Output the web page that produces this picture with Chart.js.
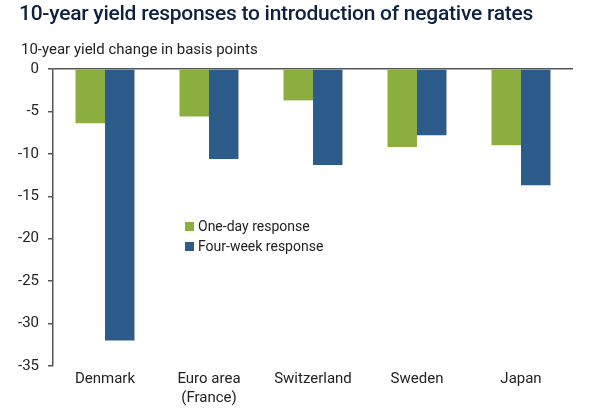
<!DOCTYPE html>
<html>
<head>
<meta charset="utf-8">
<script src="https://cdn.jsdelivr.net/npm/chart.js@4"></script>
<style>
  body { margin: 0; background: #fff; }
  #wrap { position: relative; width: 595px; height: 414px; font-family: Roboto, sans-serif; }
  #title { position: absolute; left: 19px; top: 1px; margin: 0; font-size: 21px; font-weight: 500;
           color: #0d2240; letter-spacing: -0.25px; white-space: nowrap; }
  #caption { position: absolute; left: 21px; top: 40px; font-size: 15px; color: #222; }
  #legend { position: absolute; left: 185px; top: 216px; font-size: 14px; color: #222; }
  #legend div { height: 20px; line-height: 20px; display: flex; align-items: center; }
  #legend span.box { width: 9px; height: 9px; margin-right: 4px; display: inline-block; }
  canvas { position: absolute; left: 0; top: 0; }
</style>
</head>
<body>
<div id="wrap">
  <canvas id="yieldChart" width="595" height="414"></canvas>
  <h1 id="title">10-year yield responses to introduction of negative rates</h1>
  <div id="caption">10-year yield change in basis points</div>
  <div id="legend"></div>
</div>
<script>
(function() {
    "use strict";

    var countries = ['Denmark', ['Euro area', '(France)'], 'Switzerland', 'Sweden', 'Japan'];
    var oneDay = [-6.4, -5.6, -3.7, -9.2, -9.0];
    var fourWeek = [-32.0, -10.6, -11.3, -7.8, -13.7];
    var seriesNames = ['One-day response', 'Four-week response'];
    var seriesColors = ['#8bae3f', '#2e5c8a'];

    Chart.defaults.font.family = 'Roboto, sans-serif';
    Chart.defaults.color = '#222';

    var ctx = document.getElementById('yieldChart');
    var myChart = new Chart(ctx, {
        type: 'bar',
        data: {
            labels: countries,
            datasets: [{
                label: seriesNames[0],
                data: oneDay,
                backgroundColor: seriesColors[0]
            }, {
                label: seriesNames[1],
                data: fourWeek,
                backgroundColor: seriesColors[1]
            }]
        },
        options: {
            responsive: false,
            animation: false,
            layout: {
                padding: { top: 69, right: 22, bottom: 2, left: 0 }
            },
            datasets: {
                bar: { categoryPercentage: 0.567, barPercentage: 1 }
            },
            plugins: {
                legend: { display: false },
                tooltip: { enabled: false }
            },
            scales: {
                x: {
                    grid: { display: false, drawTicks: false },
                    border: { display: false },
                    ticks: { font: { size: 15, lineHeight: '19px' }, padding: 4, color: '#222' }
                },
                y: {
                    min: -35,
                    max: 0,
                    ticks: { stepSize: 5, font: { size: 15 }, padding: 9, color: '#222' },
                    grid: {
                        color: function(c) { return c.tick && c.tick.value === 0 ? '#555' : 'transparent'; },
                        tickColor: '#555',
                        tickLength: 5,
                        lineWidth: 1.5
                    },
                    border: { display: true, color: '#555', width: 1.5 },
                    afterFit: function(scale) { scale.width = 53; }
                }
            }
        }
    });

    // html legend from the datasets
    var legend = document.getElementById('legend');
    myChart.data.datasets.forEach(function(ds) {
        var row = document.createElement('div');
        var box = document.createElement('span');
        box.className = 'box';
        box.style.background = ds.backgroundColor;
        row.appendChild(box);
        row.appendChild(document.createTextNode(ds.label));
        legend.appendChild(row);
    });
})();
</script>
</body>
</html>
